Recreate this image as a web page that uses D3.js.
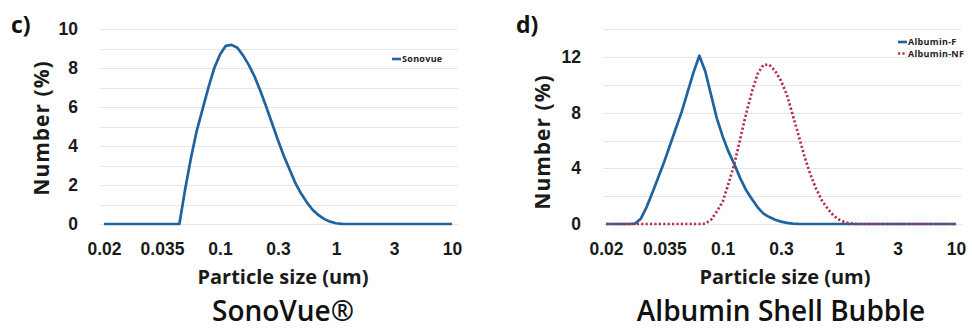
<!DOCTYPE html>
<html>
<head>
<meta charset="utf-8">
<title>Particle size distributions</title>
<script src="https://d3js.org/d3.v7.min.js"></script>
<style>
body { margin: 0; background: #fff; }
svg { display: block; font-family: "Open Sans", sans-serif; }
.grid line { stroke: #e6e6e6; stroke-width: 1; shape-rendering: crispEdges; }
.grid path { display: none; }
.axis path { display: none; }
.axis text { font-size: 17.5px; font-weight: 700; fill: #1a1a1a; }
.atitle { font-size: 20px; font-weight: 700; fill: #1a1a1a; }
.ytitle { font-size: 21px; font-weight: 700; fill: #1a1a1a; letter-spacing: 1px; }
.ptitle { font-size: 28px; font-weight: 600; fill: #111; }
.plabel { font-size: 23px; font-weight: 700; fill: #111; }
.legend text { font-size: 9px; font-weight: 700; fill: #222; letter-spacing: 0.3px; }
</style>
</head>
<body>
<svg width="972" height="330"></svg>
<script>
// particle size categories (um), evenly spaced on the chart like an excel category axis
var sizes = [
  0.02, 0.021, 0.022, 0.024, 0.025, 0.027, 0.028, 0.03, 0.032, 0.033,
  0.035, 0.039, 0.043, 0.048, 0.053, 0.059, 0.065, 0.072, 0.081, 0.09,
  0.1, 0.11, 0.125, 0.14, 0.155, 0.17, 0.19, 0.21, 0.24, 0.27,
  0.3, 0.34, 0.38, 0.43, 0.49, 0.55, 0.62, 0.7, 0.79, 0.89,
  1, 1.1, 1.25, 1.4, 1.55, 1.7, 1.9, 2.1, 2.4, 2.7,
  3, 3.4, 3.8, 4.3, 4.9, 5.5, 6.2, 7, 7.9, 8.9,
  10];
var sizeLabels = [0.02, 0.035, 0.1, 0.3, 1, 3, 10];

var sonovue = [
  0, 0, 0, 0, 0, 0, 0, 0, 0, 0,
  0, 0, 0, 0, 1.8, 3.4, 4.8, 5.9, 7.0, 8.0,
  8.7, 9.15, 9.2, 9.05, 8.65, 8.15, 7.55, 6.8, 6.0, 5.15,
  4.3, 3.5, 2.8, 2.1, 1.55, 1.1, 0.72, 0.45, 0.25, 0.12,
  0.04, 0.01, 0, 0, 0, 0, 0, 0, 0, 0,
  0, 0, 0, 0, 0, 0, 0, 0, 0, 0,
  0];
var albuminF = [
  0, 0, 0, 0, 0, 0.03, 0.4, 1.25, 2.3, 3.4,
  4.5, 5.7, 6.9, 8.1, 9.5, 10.9, 12.1, 11.0, 9.3, 7.6,
  6.3, 5.2, 4.3, 3.3, 2.45, 1.8, 1.2, 0.75, 0.5, 0.3,
  0.17, 0.08, 0.03, 0.01, 0, 0, 0, 0, 0, 0,
  0, 0, 0, 0, 0, 0, 0, 0, 0, 0,
  0, 0, 0, 0, 0, 0, 0, 0, 0, 0,
  0];
var albuminNF = [
  0, 0, 0, 0, 0, 0, 0, 0, 0, 0,
  0, 0, 0, 0, 0, 0, 0, 0.02, 0.3, 0.9,
  1.6, 2.9, 4.3, 6.1, 7.9, 9.5, 10.8, 11.45, 11.45, 11.0,
  10.3, 9.3, 7.85, 6.4, 4.9, 3.6, 2.55, 1.7, 1.1, 0.6,
  0.3, 0.12, 0.04, 0, 0, 0, 0, 0, 0, 0,
  0, 0, 0, 0, 0, 0, 0, 0, 0, 0,
  0];

var yTicksLeft = [0, 2, 4, 6, 8, 10];
var yTicksRight = [0, 4, 8, 12];

var blue = "#1f63a0", red = "#b5304a";
var svg = d3.select("svg");

function drawPanel(p) {
  var x = d3.scalePoint().domain(sizes).range([p.x0, p.x1]);
  var y = d3.scaleLinear().domain([0, p.ymax]).range([224, 29.3]);
  var g = svg.append("g");

  // horizontal gridlines
  g.append("g")
      .attr("class", "grid")
      .attr("transform", "translate(" + p.gx0 + ",0)")
      .call(d3.axisLeft(y).tickValues(d3.range(0, p.ymax + 0.01, p.gridStep))
        .tickSize(-(p.gx1 - p.gx0)).tickFormat(""));

  g.append("g")
      .attr("class", "axis")
      .attr("transform", "translate(" + p.gx0 + ",0)")
      .call(d3.axisLeft(y).tickValues(p.yTicks).tickSize(0).tickPadding(22));

  g.append("g")
      .attr("class", "axis")
      .attr("transform", "translate(0,224)")
      .call(d3.axisBottom(x).tickValues(sizeLabels).tickSize(0).tickPadding(19));

  var line = d3.line()
      .x(function(d, i) { return x(sizes[i]); })
      .y(function(d) { return y(d); })
      .curve(d3.curveLinear);

  p.series.forEach(function(s) {
    g.append("path")
        .datum(s.values)
        .attr("fill", "none")
        .attr("stroke", s.color)
        .attr("stroke-width", 2.7)
        .attr("stroke-linejoin", "round")
        .attr("stroke-dasharray", s.dash || null)
        .attr("d", line);
  });

  // legend
  var lg = g.append("g").attr("class", "legend");
  p.series.forEach(function(s, i) {
    var ly = p.legY + i * 11.5;
    lg.append("line")
        .attr("x1", p.legX).attr("x2", p.legX + 9)
        .attr("y1", ly).attr("y2", ly)
        .attr("stroke", s.color).attr("stroke-width", 2.6)
        .attr("stroke-dasharray", s.dash || null);
    lg.append("text")
        .attr("x", p.legX + 10).attr("y", ly + 3.2)
        .text(s.name);
  });

  g.append("text")
      .attr("class", "ytitle")
      .attr("transform", "translate(" + p.yTitleX + "," + p.yTitleY + ") rotate(-90)")
      .attr("text-anchor", "middle").attr("dy", "0.35em")
      .text("Number (%)");

  g.append("text")
      .attr("class", "atitle")
      .attr("x", p.xTitleX).attr("y", 277).attr("dy", "0.35em")
      .attr("text-anchor", "middle")
      .text("Particle size (um)");

  g.append("text")
      .attr("class", "ptitle")
      .attr("x", p.titleX).attr("y", 321)
      .attr("text-anchor", "middle")
      .text(p.title);

  g.append("text")
      .attr("class", "plabel")
      .attr("x", p.labX).attr("y", 33)
      .text(p.label);
}

drawPanel({
  x0: 104, x1: 452, gx0: 100, gx1: 458, ymax: 10, gridStep: 1, yTicks: yTicksLeft,
  series: [{ name: "Sonovue", values: sonovue, color: blue }],
  legX: 392, legY: 59,
  yTitleX: 42, yTitleY: 128, xTitleX: 283, titleX: 283,
  title: "SonoVue®", label: "c)", labX: 11
});

drawPanel({
  x0: 606, x1: 956, gx0: 603, gx1: 962, ymax: 14, gridStep: 2, yTicks: yTicksRight,
  series: [
    { name: "Albumin-F", values: albuminF, color: blue },
    { name: "Albumin-NF", values: albuminNF, color: red, dash: "2.2,2.2" }
  ],
  legX: 898, legY: 42,
  yTitleX: 543, yTitleY: 142, xTitleX: 785, titleX: 781,
  title: "Albumin Shell Bubble", label: "d)", labX: 516
});
</script>
</body>
</html>
